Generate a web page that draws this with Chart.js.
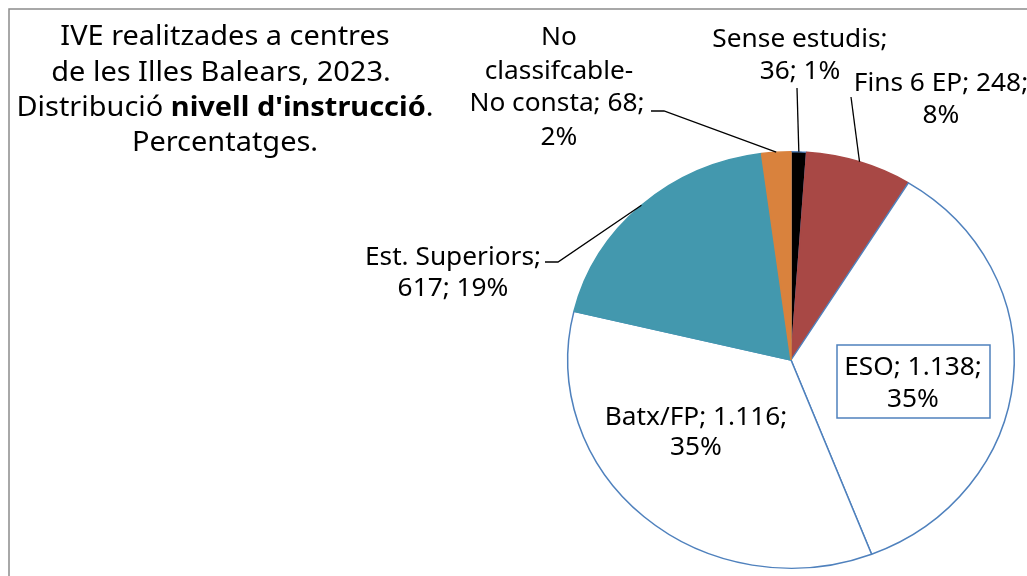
<!DOCTYPE html>
<html><head><meta charset="utf-8">
<script src="https://cdn.jsdelivr.net/npm/chart.js@4.4.0/dist/chart.umd.min.js"></script>
<style>html,body{margin:0;padding:0;background:#fff;}#wrap{width:1027px;height:576px;position:relative;}</style>
</head><body><div id="wrap"><canvas id="c" width="1027" height="576"></canvas></div>
<script>
const categories = ["Sense estudis", "Fins 6 EP", "ESO", "Batx/FP", "Est. Superiors", "No classifcable-No consta"];
const values = [36, 248, 1138, 1116, 617, 68];
const valueLabels = ["36", "248", "1.138", "1.116", "617", "68"];
const percentLabels = ["1%", "8%", "35%", "35%", "19%", "2%"];
const fillColors = ["#000000", "#A84845", "#FFFFFF", "#FFFFFF", "#4398AE", "#D9823D"];
const borderColors = ["#4F81BD", "#A84845", "#4F81BD", "#4F81BD", "#4398AE", "#D9823D"];

const FONT = "'Noto Sans', 'Open Sans', sans-serif";
const LABEL_PX = 24.5;
const TITLE_PX = 27;
const SX = 224 / 209; // horizontal stretch (pie is an ellipse, text is widened too)

function ellipsePoint(chart, idx, frac) {
  const arc = chart.getDatasetMeta(0).data[idx];
  const a = arc.startAngle + (arc.endAngle - arc.startAngle) * frac;
  const r = arc.outerRadius;
  return { x: arc.x + Math.cos(a) * r * SX, y: arc.y + Math.sin(a) * r };
}

const stretchPlugin = {
  id: 'stretch',
  beforeDatasetsDraw(chart) {
    const arc = chart.getDatasetMeta(0).data[0];
    const ctx = chart.ctx;
    ctx.save();
    ctx.translate(arc.x, arc.y);
    ctx.scale(SX, 1);
    ctx.translate(-arc.x, -arc.y);
  },
  afterDatasetsDraw(chart) { chart.ctx.restore(); }
};

const framePlugin = {
  id: 'frame',
  beforeDraw(chart) {
    const ctx = chart.ctx;
    ctx.save();
    ctx.fillStyle = '#fff';
    ctx.fillRect(0, 0, chart.width, chart.height);
    ctx.strokeStyle = '#8c8c8c';
    ctx.lineWidth = 1.5;
    ctx.strokeRect(9, 9, 1100, 700);
    ctx.restore();
  }
};

function line(ctx, pts) {
  ctx.beginPath();
  ctx.moveTo(pts[0].x, pts[0].y);
  for (let i = 1; i < pts.length; i++) ctx.lineTo(pts[i].x, pts[i].y);
  ctx.stroke();
}

function txt(ctx, s, x, y, align) {
  ctx.save();
  ctx.translate(x, y);
  ctx.scale(SX, 1);
  ctx.textAlign = align || 'center';
  ctx.fillText(s, 0, 0);
  ctx.restore();
}

const labelPlugin = {
  id: 'labels',
  afterDraw(chart) {
    const ctx = chart.ctx;
    ctx.save();
    ctx.fillStyle = '#000';
    ctx.textBaseline = 'alphabetic';
    ctx.font = LABEL_PX + 'px ' + FONT;
    const lbl = (i) => categories[i] + '; ' + valueLabels[i] + ';';
    // Sense estudis
    txt(ctx, categories[0] + ';', 800, 47);
    txt(ctx, valueLabels[0] + '; ' + percentLabels[0], 800, 79);
    // Fins 6 EP
    txt(ctx, lbl(1), 941, 91);
    txt(ctx, percentLabels[1], 941, 123);
    // No classifcable
    txt(ctx, 'No', 559, 45);
    txt(ctx, 'classifcable-', 559, 79);
    txt(ctx, 'No consta; ' + valueLabels[5] + ';', 557, 111);
    txt(ctx, percentLabels[5], 559, 145);
    // Est. Superiors
    txt(ctx, categories[4] + ';', 453, 265);
    txt(ctx, valueLabels[4] + '; ' + percentLabels[4], 453, 296);
    // ESO (boxed)
    txt(ctx, lbl(2), 913, 375);
    txt(ctx, percentLabels[2], 913, 407);
    ctx.strokeStyle = '#4F81BD';
    ctx.lineWidth = 1.5;
    ctx.strokeRect(837, 345, 153, 73);
    // Batx/FP
    txt(ctx, lbl(3), 696, 425);
    txt(ctx, percentLabels[3], 696, 455);

    // leader lines
    ctx.strokeStyle = '#000';
    ctx.lineWidth = 1.3;
    line(ctx, [{x: 797, y: 88}, ellipsePoint(chart, 0, 0.5)]);
    line(ctx, [{x: 851, y: 97}, ellipsePoint(chart, 1, 0.5)]);
    line(ctx, [{x: 651, y: 111}, {x: 664, y: 111}, ellipsePoint(chart, 5, 0.5)]);
    line(ctx, [{x: 545, y: 262}, {x: 558, y: 262}, ellipsePoint(chart, 4, 0.5)]);

    // title
    const TX = 225;
    ctx.font = TITLE_PX + 'px ' + FONT;
    txt(ctx, 'IVE realitzades a centres', TX, 45);
    txt(ctx, 'de les Illes Balears, 2023.', TX - 4, 81);
    const p1 = 'Distribució ', p2 = "nivell d'instrucció", p3 = '.';
    const w1 = ctx.measureText(p1).width * SX;
    ctx.font = 'bold ' + TITLE_PX + 'px ' + FONT;
    const w2 = ctx.measureText(p2).width * SX;
    ctx.font = TITLE_PX + 'px ' + FONT;
    const w3 = ctx.measureText(p3).width * SX;
    const x0 = TX - (w1 + w2 + w3) / 2;
    txt(ctx, p1, x0, 116, 'left');
    ctx.font = 'bold ' + TITLE_PX + 'px ' + FONT;
    txt(ctx, p2, x0 + w1, 116, 'left');
    ctx.font = TITLE_PX + 'px ' + FONT;
    txt(ctx, p3, x0 + w1 + w2, 116, 'left');
    txt(ctx, 'Percentatges.', TX, 151);
    ctx.restore();
  }
};

new Chart(document.getElementById('c'), {
  type: 'pie',
  data: {
    labels: categories,
    datasets: [{
      data: values,
      backgroundColor: fillColors,
      borderColor: borderColors,
      borderWidth: 1.4,
      hoverOffset: 0
    }]
  },
  options: {
    responsive: false,
    animation: false,
    events: [],
    layout: { padding: { left: 582, right: 27, top: 151, bottom: 7 } },
    plugins: { legend: { display: false }, tooltip: { enabled: false } }
  },
  plugins: [framePlugin, stretchPlugin, labelPlugin]
});
</script></body></html>
